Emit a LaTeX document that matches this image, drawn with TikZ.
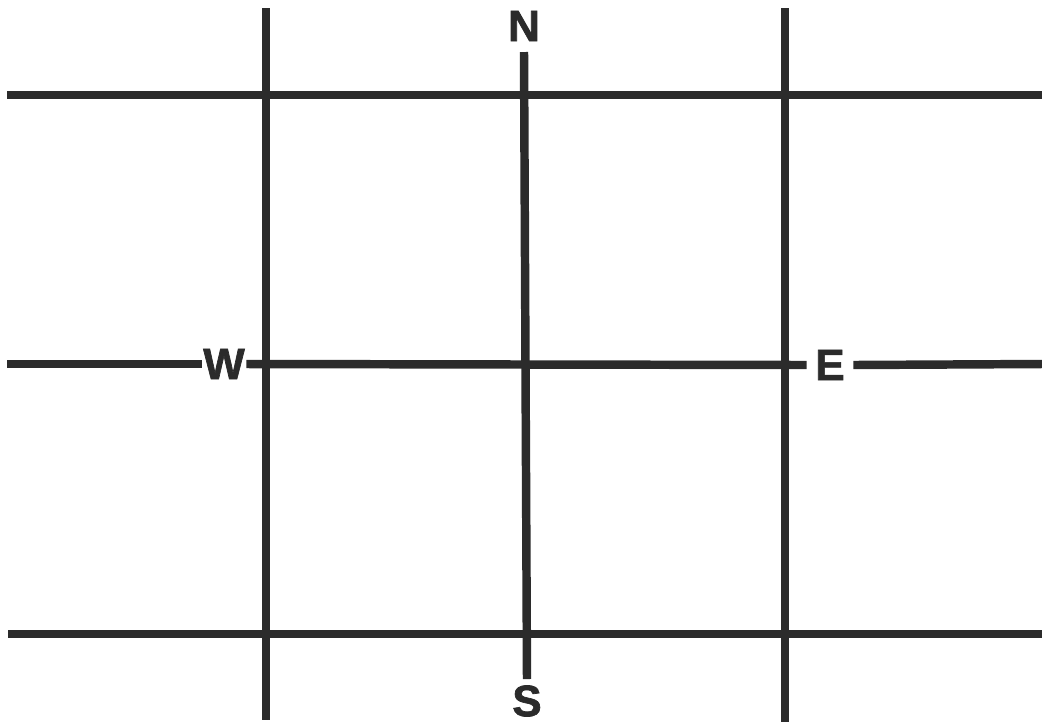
\documentclass[tikz,border=0pt]{standalone}
\usepackage{fontspec}
\setmainfont{Liberation Sans}
\newfontfamily\lettre[FakeBold=1.6]{Liberation Sans Bold}
\usepackage{tikz}
\usetikzlibrary{positioning}
\definecolor{encre}{HTML}{2B2B2B}
\tikzset{
  rue/.style={line width=8.5pt*0.5669, color=encre},
  point/.style={font=\fontsize{25}{25}\selectfont\lettre, text=encre,
    inner sep=0pt, outer sep=0pt}
}

\begin{document}
\begin{tikzpicture}[x=0.02cm, y=-0.02cm]
    \useasboundingbox (0, 0) rectangle (1042, 725);

    % Points cardinaux
    \node[point, anchor=center] (nord) at (524, 26) {N};
    \node[point, anchor=center] (sud) at (527, 701) {S};
    \node[point, anchor=center] (ouest) at (224, 364) {W};
    \node[point, anchor=center] (est) at (830, 365) {E};

    % Rues verticales
    \foreach \x/\yh/\yb in {266/8/720, 785/8/722} {
      \draw[rue] (\x, \yh) -- (\x, \yb);
    }
    \coordinate (nordrue) at (524, 52);
    \coordinate (sudrue) at (527, 679);
    \draw[rue] (nordrue) -- (sudrue);

    % Rues horizontales
    \foreach \y/\xg in {95/7, 634/8} {
      \draw[rue] (\xg, \y) -- (1042, \y);
    }
    \coordinate (ouestrue) at (7, 364);
    \coordinate (estrue) at (1042, 364);
    \draw[rue] (ouestrue) -- ([xshift=-1pt]ouest.west);
    \draw[rue] ([xshift=1pt]ouest.east) -- ([xshift=-5pt]est.west);
    \draw[rue] ([xshift=5pt]est.east) -- (estrue);
\end{tikzpicture}
\end{document}
